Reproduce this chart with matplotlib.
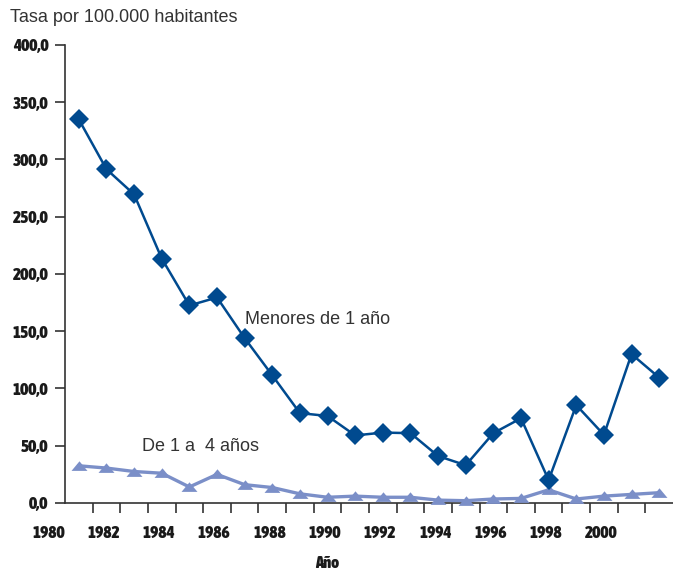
import matplotlib.pyplot as plt
from matplotlib import font_manager
from matplotlib.ticker import MultipleLocator, FuncFormatter
from matplotlib.path import Path

years = list(range(1981, 2003))
menores_1 = [335.0, 291.5, 269.5, 213.5, 172.5, 179.5, 144.0, 111.5, 78.5, 76.0,
             59.0, 61.5, 61.0, 41.0, 33.0, 61.0, 74.0, 20.0, 85.5, 59.5, 130.0, 109.5]
de_1_a_4 = [32.5, 30.5, 27.5, 26.0, 14.0, 25.0, 16.0, 13.5, 8.0, 5.0,
            6.0, 5.0, 5.0, 2.5, 2.0, 3.5, 4.0, 11.5, 3.5, 6.0, 7.5, 9.0]
year_labels = list(range(1980, 2001, 2))

dark = '#004a8f'
light = '#7b8fc8'
axis_col = '#333333'
text_font = ['Liberation Sans', 'DejaVu Sans']


def is_bold(w):
    if isinstance(w, str):
        return w.lower() in ('bold', 'heavy', 'black', 'extra bold', 'semibold', 'demibold')
    return w >= 600


# a narrow bold face for the numbers, if one is installed
fonts = font_manager.fontManager.ttflist
narrow_bold_files = [f.fname for f in fonts
                     if ('Narrow' in f.name or 'Condensed' in f.name) and is_bold(f.weight)]
if narrow_bold_files:
    num_prop = font_manager.FontProperties(fname=sorted(narrow_bold_files)[0])
else:
    num_prop = font_manager.FontProperties(family='Liberation Sans', weight='bold')
num_size = 12.5 if narrow_bold_files else 10.5
num_prop.set_size(num_size)

flat_tri = Path([(-1.0, -0.55), (1.0, -0.55), (0.0, 0.65), (-1.0, -0.55)],
                [Path.MOVETO, Path.LINETO, Path.LINETO, Path.CLOSEPOLY])

fig = plt.figure(figsize=(6.73, 5.71), dpi=100)
ax = fig.add_axes([0.0966, 0.1191, 0.9034, 0.8021])

ax.plot(years, de_1_a_4, color=light, lw=2.4, marker=flat_tri, ms=11.5,
        markeredgewidth=0, clip_on=False, zorder=3)
ax.plot(years, menores_1, color=dark, lw=1.8, marker='D', ms=10.5,
        markeredgewidth=0, clip_on=False, zorder=4)

ax.set_xlim(1980.5, 2002.5)
ax.set_ylim(0, 400)

for s in ['top', 'right']:
    ax.spines[s].set_visible(False)
for s in ['left', 'bottom']:
    ax.spines[s].set_color(axis_col)
    ax.spines[s].set_linewidth(1.2)

ax.yaxis.set_major_locator(MultipleLocator(50))
ax.yaxis.set_major_formatter(FuncFormatter(lambda v, p: f'{v:.1f}'.replace('.', ',')))
ax.tick_params(axis='y', length=7, width=1.2, color=axis_col, pad=5,
               labelcolor='#1a1a1a')
for lab in ax.get_yticklabels():
    lab.set_fontproperties(num_prop)

ax.set_xticks([y + 0.5 for y in years[:-1]])
ax.set_xticklabels([])
ax.tick_params(axis='x', length=7, width=1.2, color=axis_col)

for y in year_labels:
    ax.text(y - 0.1, -26, str(y), ha='center', va='center', fontproperties=num_prop,
            color='#1a1a1a', clip_on=False)
ano_prop = num_prop.copy()
ano_prop.set_size(num_size - 0.5)
ax.text(1990, -52, 'Año', ha='center', va='center', fontproperties=ano_prop,
        color='#1a1a1a', clip_on=False)

ax.text(1987.0, 160, 'Menores de 1 año', ha='left', va='center', fontsize=13,
        family=text_font, color='#333333')
ax.text(1983.3, 49, 'De 1 a  4 años', ha='left', va='center', fontsize=13,
        family=text_font, color='#333333')

fig.text(10 / 673, 1 - 17 / 571, 'Tasa por 100.000 habitantes', ha='left', va='center',
         fontsize=13, family=text_font, color='#333333')

plt.savefig('out.png', dpi=100)
